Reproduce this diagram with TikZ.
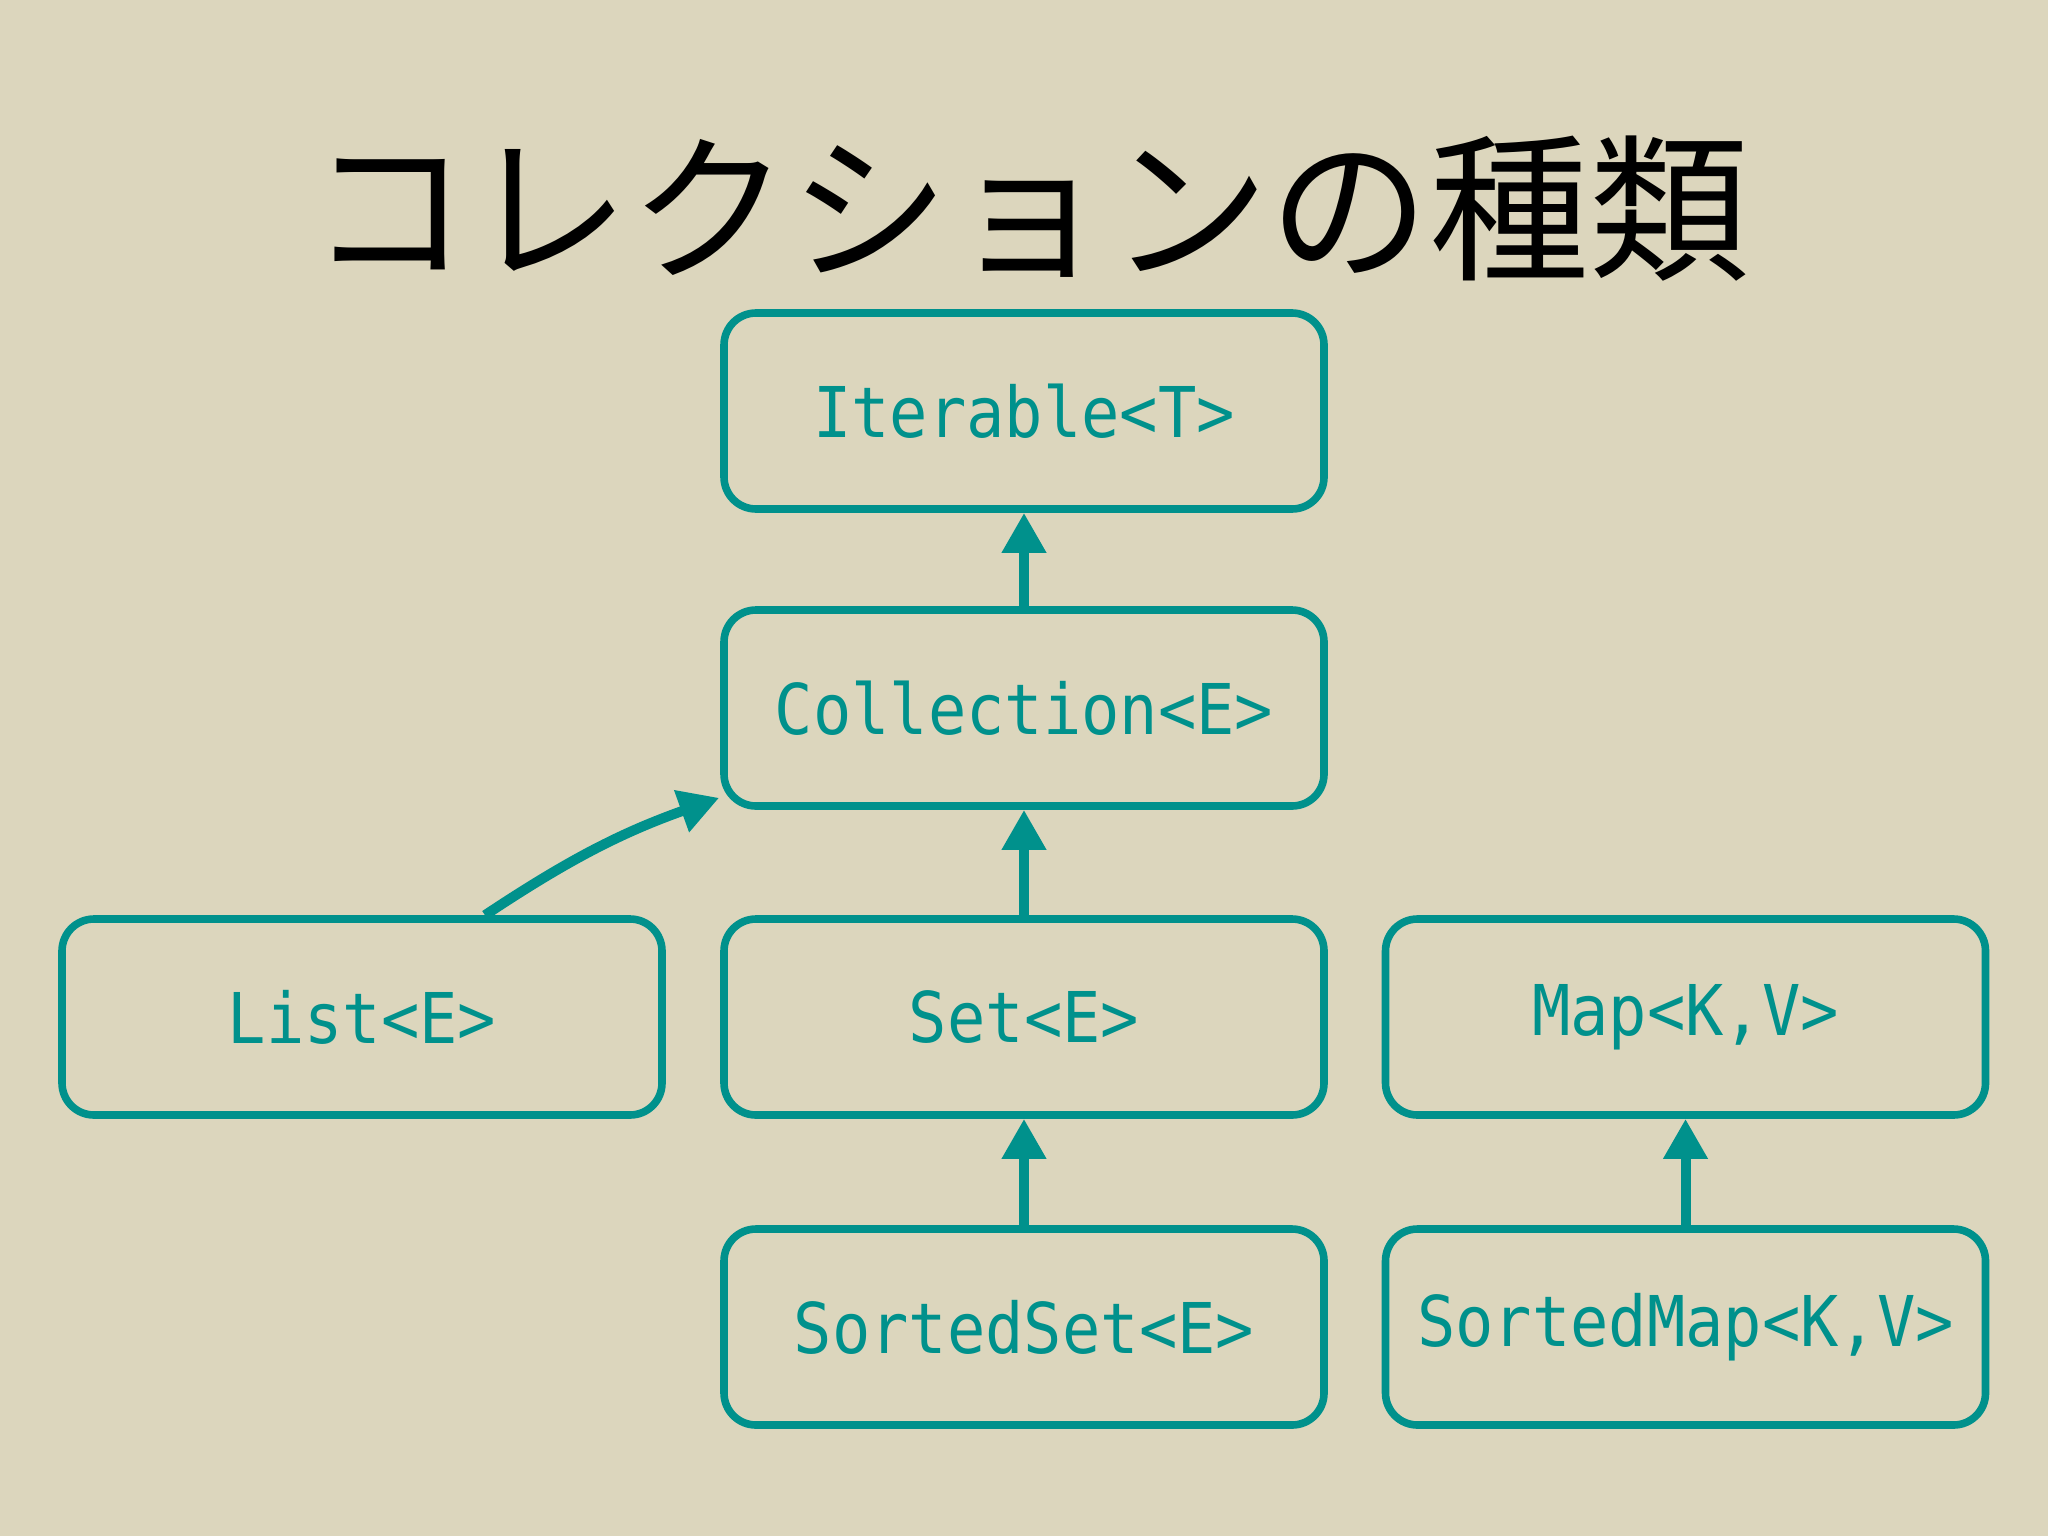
\documentclass[tikz,border=0pt]{standalone}
\usepackage{fontspec}
\usetikzlibrary{arrows.meta,positioning}
\newfontfamily\cjkfont{Noto Sans CJK JP}
\newfontfamily\codefont[FakeStretch=0.91]{DejaVu Sans Mono}
\definecolor{bgc}{RGB}{220,214,189}
\definecolor{tealc}{RGB}{0,145,140}
\tikzset{
  ibox/.style={draw=tealc, line width=3.8pt, rounded corners=16pt,
    minimum width=300pt, minimum height=98pt, inner sep=0pt,
    text=tealc, font=\codefont\fontsize{35}{40}\selectfont},
  arr/.style={draw=tealc, line width=5pt, -{Triangle[width=21pt,length=20pt]}}
}
\begin{document}
\begin{tikzpicture}[x=0.5pt,y=-0.5pt]
\fill[bgc] (0,0) rectangle (2048,1536);
\useasboundingbox (0,0) rectangle (2048,1536);
\node[font=\cjkfont\fontsize{80}{92}\selectfont, text=black] (title) at (1029,209) {コレクションの種類};
\node[ibox] (iter) at (1024,411) {Iterable<T>};
\node[ibox] (coll) at (1024,708) {Collection<E>};
\node[ibox] (list) at (362,1017) {List<E>};
\node[ibox] (set) at (1024,1017) {Set<E>};
\node[ibox] (map) at (1685.5,1017) {Map<K,V>};
\node[ibox] (sset) at (1024,1327) {SortedSet<E>};
\node[ibox] (smap) at (1685.5,1327) {SortedMap<K,V>};
\draw[arr] (coll.north) -- (iter.south);
\draw[arr] (set.north) -- (coll.south);
\draw[arr] (sset.north) -- (set.south);
\draw[arr] (smap.north) -- (map.south);
\coordinate (lstart) at ([xshift=61.5pt]list.north);
\coordinate (lend) at ([xshift=-0.5pt,yshift=6pt]coll.south west);
\draw[arr] (lstart) to[bend left=7] (lend);
\end{tikzpicture}
\end{document}
